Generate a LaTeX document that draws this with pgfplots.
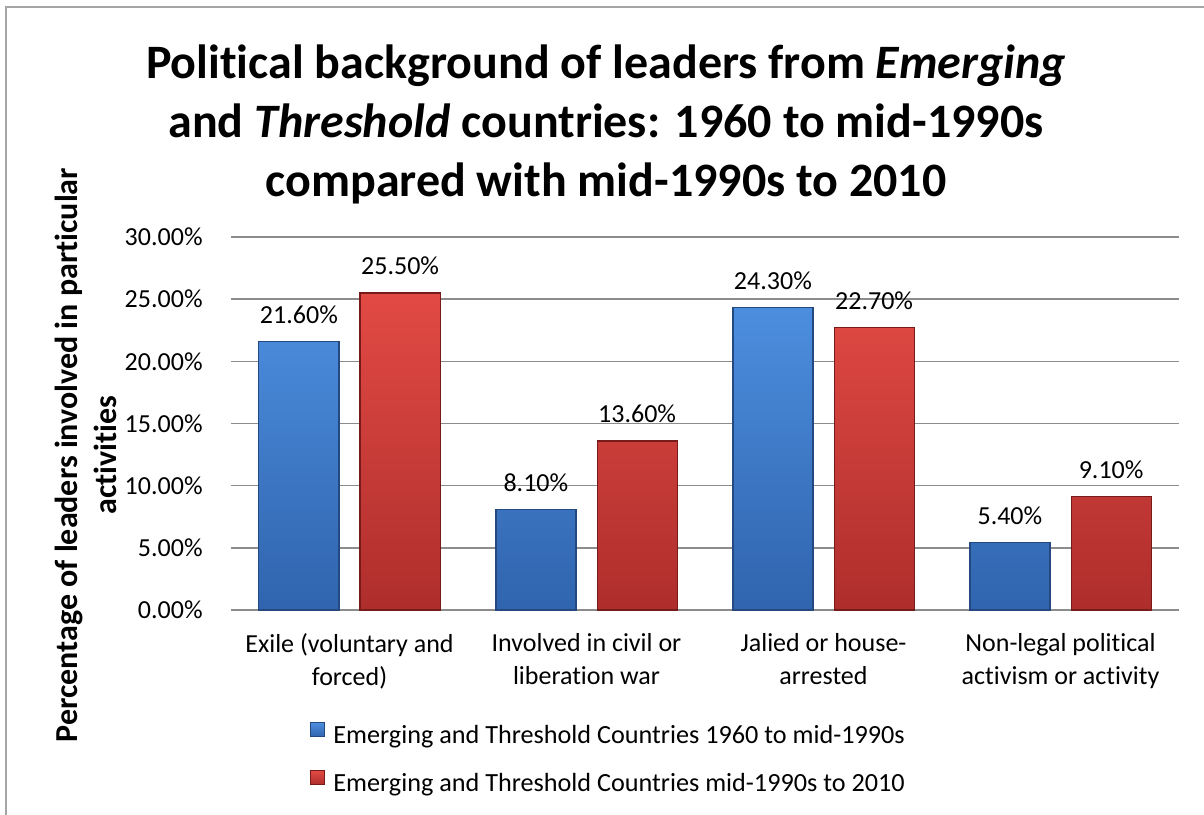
\documentclass[border=0pt]{standalone}
\usepackage{fontspec}
\setmainfont{Carlito}[Ligatures=NoCommon]
\usepackage{pgfplots}
\pgfplotsset{compat=1.18}
\pgfplotsset{/pgf/number format/assume math mode=true}

\definecolor{gridgray}{RGB}{140,140,140}
\definecolor{framegray}{RGB}{165,165,165}
\definecolor{blueTop}{RGB}{76,142,222}
\definecolor{blueBot}{RGB}{48,100,174}
\definecolor{blueEdge}{RGB}{36,72,128}
\definecolor{redTop}{RGB}{226,74,68}
\definecolor{redBot}{RGB}{174,46,44}
\definecolor{redEdge}{RGB}{118,26,26}

\begin{document}
\begin{tikzpicture}
\useasboundingbox (0,0) rectangle (602pt,-407pt);
\fill[white] (0,0) rectangle (602pt,-407pt);
\draw[framegray, line width=1pt] (3pt,-410pt) -- (3pt,-3.7pt) -- (606pt,-3.7pt);

% title, three centred lines
\begin{scope}[every node/.style={anchor=base, inner sep=0pt, font=\fontsize{24}{29.5}\selectfont\bfseries}]
\node at (303pt,-39pt) {Political background of leaders from \textit{Emerging}};
\node at (303pt,-68.5pt) {and \textit{Threshold} countries: 1960 to mid-1990s};
\node at (303pt,-98pt) {compared with mid-1990s to 2010};
\end{scope}

% value axis title
\node[rotate=90, align=center, inner sep=0pt, font=\fontsize{16}{19.5}\selectfont\bfseries]
  at (43pt,-227.5pt) {Percentage of leaders involved in particular\\activities};

\begin{axis}[
  at={(115.5pt,-305pt)}, anchor=south west,
  scale only axis, width=474pt, height=186.5pt,
  font=\fontsize{13}{16.5}\selectfont,
  xmin=-0.5, xmax=3.5, ymin=0, ymax=30,
  ybar, bar width=0.3376,
  xtick={0,1,2,3},
  xticklabels={{Exile (voluntary and\\forced)},{Involved in civil or\\liberation war},{Jalied or house-\\arrested},{Non-legal political\\activism or activity}},
  xticklabel style={align=center, anchor=north, inner sep=0pt, yshift=-11.5pt},
  ytick={0,5,10,15,20,25,30},
  yticklabel={\pgfmathprintnumber[fixed,fixed zerofill,precision=2]{\tick}\%},
  yticklabel style={anchor=east, inner sep=0pt, xshift=-14pt},
  ymajorgrids, grid style={gridgray, line width=0.75pt},
  axis line style={draw=none},
  major tick length=0pt,
  tick style={draw=none},
  clip=false,
  nodes near coords={\pgfmathprintnumber[fixed,fixed zerofill,precision=2]{\pgfplotspointmeta}\%},
  every node near coord/.append style={anchor=base, inner sep=0pt, yshift=9pt, black, font=\fontsize{13}{16.5}\selectfont},
  legend cell align=left,
  legend style={at={(axis description cs:0.0833,-0.300)}, anchor=north west,
    draw=none, fill=none, inner sep=0pt, nodes={inner sep=0pt},
    row sep=11.6pt, font=\fontsize{13.1}{16.5}\selectfont,
    /tikz/every odd column/.append style={column sep=4pt}},
  legend image code/.code={\draw[#1, line width=0.5pt] (0pt,-0.3pt) rectangle (7pt,6.7pt);},
]
\addplot[bar shift=-0.2135, top color=blueTop, bottom color=blueBot, draw=blueEdge, line width=0.6pt]
  coordinates {(0,21.6) (1,8.1) (2,24.3) (3,5.4)};
\addlegendentry{Emerging and Threshold Countries 1960 to mid-1990s}
\addplot[bar shift=0.2135, top color=redTop, bottom color=redBot, draw=redEdge, line width=0.6pt]
  coordinates {(0,25.5) (1,13.6) (2,22.7) (3,9.1)};
\addlegendentry{Emerging and Threshold Countries mid-1990s to 2010}
\end{axis}
\end{tikzpicture}
\end{document}
